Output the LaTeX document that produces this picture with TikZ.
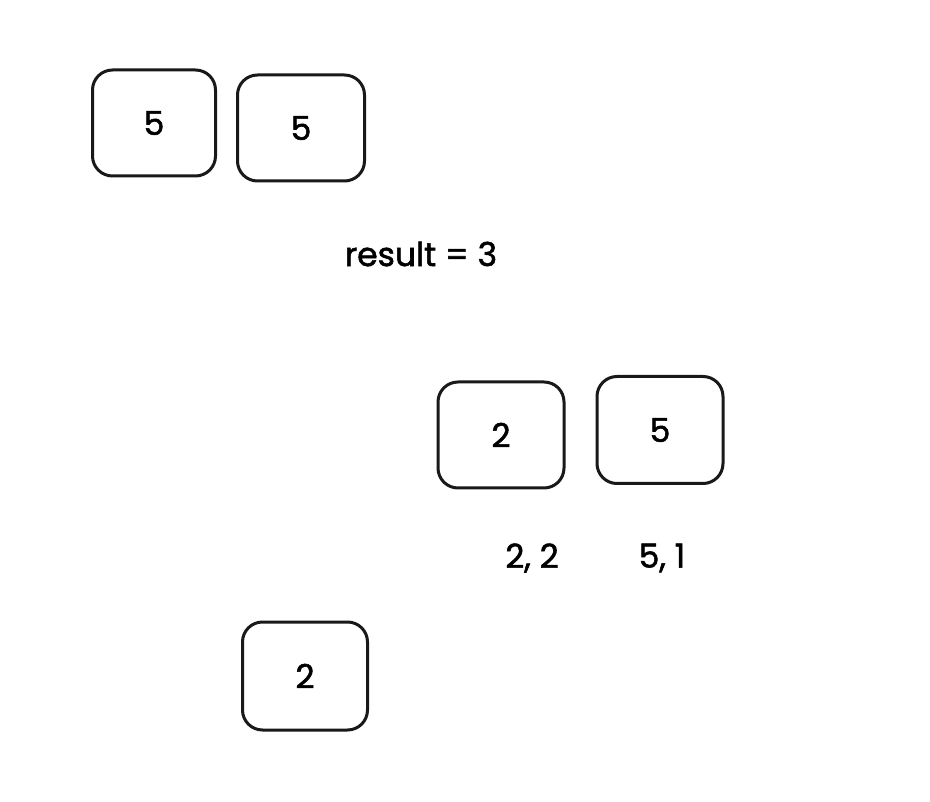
\documentclass[tikz,border=0pt]{standalone}
\usepackage{fontspec}
\setmainfont{Poppins}[BoldFont={Poppins}, BoldFeatures={FakeBold=1.6}]
\begin{document}
\begin{tikzpicture}[x=1pt,y=-1pt,
  card/.style={draw=black!90, line width=3pt, rounded corners=20pt, minimum width=#1, minimum height=106pt, inner sep=0pt, font=\bfseries\fontsize{33}{38}\selectfont},
  card/.default=124pt,
  lbl/.style={font=\bfseries\fontsize{33}{38}\selectfont, inner sep=0pt}]
\useasboundingbox[fill=white] (0,0) rectangle (930,802);
\node[card=123pt] (a) at (154,123) {5};
\node[card=127pt] (b) at (301,128) {5};
\node[lbl] (res) at (421,254) {result = 3};
\node[card=126pt] (c) at (501,435) {2};
\node[card=126pt, minimum height=107pt] (d) at (660,430) {5};
\node[lbl] (l1) at (532,558) {2, 2};
\node[lbl] (l2) at (662,558) {5, 1};
\node[card=125pt, minimum height=108pt] (e) at (305,676) {2};
\end{tikzpicture}
\end{document}
